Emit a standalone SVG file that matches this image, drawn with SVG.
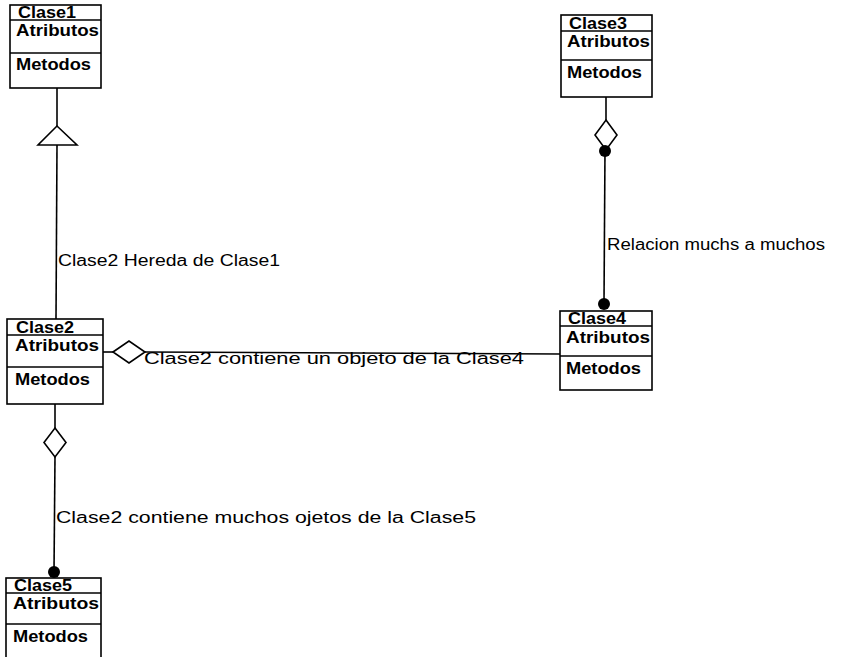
<svg xmlns="http://www.w3.org/2000/svg" width="852" height="657" viewBox="0 0 852 657">
<style>
  .box rect { fill: #fff; stroke: #000; stroke-width: 1.6; }
  .box line { stroke: #000; stroke-width: 1.6; }
  .bt { font-family: "Liberation Sans", Arial, sans-serif; font-size: 16px; font-weight: bold; fill: #000; }
  .lbl { font-family: "Liberation Sans", Arial, sans-serif; font-size: 16px; fill: #000; }
  .edge line { stroke: #000; stroke-width: 1.6; }
  .hollow { fill: #fff; stroke: #000; stroke-width: 1.6; }
  .dot { fill: #000; }
</style>
<rect width="852" height="657" fill="#fff"/>

<g id="connectors" class="edge">
  <!-- Clase2 inherits Clase1 -->
  <line x1="57" y1="88" x2="57" y2="126"/>
  <line x1="57" y1="145" x2="56" y2="319"/>
  <polygon class="hollow" points="57,126 38,145 77,145"/>
  <!-- Clase2 contains Clase4 -->
  <line x1="103" y1="352" x2="113" y2="352"/>
  <line x1="145" y1="352" x2="560" y2="354"/>
  <polygon class="hollow" points="113,352 129,341 145,352 129,363"/>
  <!-- Clase3 many-to-many Clase4 -->
  <line x1="606" y1="97" x2="606" y2="120"/>
  <line x1="605" y1="150" x2="604" y2="303"/>
  <polygon class="hollow" points="606,120 617,135 606,150 595,135"/>
  <circle class="dot" cx="605" cy="151" r="6"/>
  <circle class="dot" cx="604" cy="304" r="6"/>
  <!-- Clase2 contains many Clase5 -->
  <line x1="55" y1="404" x2="55" y2="428"/>
  <line x1="55" y1="457" x2="54" y2="572"/>
  <polygon class="hollow" points="55,428 66,442.5 55,457 44,442.5"/>
  <circle class="dot" cx="54" cy="572" r="6"/>
</g>

<g id="labels">
  <text class="lbl" x="58" y="266" textLength="222" lengthAdjust="spacingAndGlyphs">Clase2 Hereda de Clase1</text>
  <text class="lbl" x="607" y="250" textLength="218" lengthAdjust="spacingAndGlyphs">Relacion muchs a muchos</text>
  <text class="lbl" x="144" y="364" textLength="380" lengthAdjust="spacingAndGlyphs">Clase2 contiene un objeto de la Clase4</text>
  <text class="lbl" x="56" y="523" textLength="420" lengthAdjust="spacingAndGlyphs">Clase2 contiene muchos ojetos de la Clase5</text>
</g>

<g id="Clase1" class="box">
  <rect x="10" y="5" width="91" height="83"/>
  <line x1="10" y1="20" x2="101" y2="20"/>
  <line x1="10" y1="53" x2="101" y2="53"/>
  <text class="bt" x="18" y="18" textLength="58" lengthAdjust="spacingAndGlyphs">Clase1</text>
  <text class="bt" x="16" y="36" textLength="83" lengthAdjust="spacingAndGlyphs">Atributos</text>
  <text class="bt" x="16" y="70" textLength="75" lengthAdjust="spacingAndGlyphs">Metodos</text>
</g>

<g id="Clase2" class="box">
  <rect x="7" y="319" width="96" height="85"/>
  <line x1="7" y1="335" x2="103" y2="335"/>
  <line x1="7" y1="367" x2="103" y2="367"/>
  <text class="bt" x="16" y="333" textLength="58" lengthAdjust="spacingAndGlyphs">Clase2</text>
  <text class="bt" x="15" y="351" textLength="84" lengthAdjust="spacingAndGlyphs">Atributos</text>
  <text class="bt" x="15" y="385" textLength="75" lengthAdjust="spacingAndGlyphs">Metodos</text>
</g>

<g id="Clase3" class="box">
  <rect x="561" y="15" width="91" height="82"/>
  <line x1="561" y1="31" x2="652" y2="31"/>
  <line x1="561" y1="60" x2="652" y2="60"/>
  <text class="bt" x="569" y="29" textLength="58" lengthAdjust="spacingAndGlyphs">Clase3</text>
  <text class="bt" x="567" y="47" textLength="83" lengthAdjust="spacingAndGlyphs">Atributos</text>
  <text class="bt" x="567" y="78" textLength="75" lengthAdjust="spacingAndGlyphs">Metodos</text>
</g>

<g id="Clase4" class="box">
  <rect x="560" y="311" width="92" height="79"/>
  <line x1="560" y1="326" x2="652" y2="326"/>
  <line x1="560" y1="356" x2="652" y2="356"/>
  <text class="bt" x="568" y="324" textLength="58" lengthAdjust="spacingAndGlyphs">Clase4</text>
  <text class="bt" x="566" y="343" textLength="84" lengthAdjust="spacingAndGlyphs">Atributos</text>
  <text class="bt" x="566" y="374" textLength="75" lengthAdjust="spacingAndGlyphs">Metodos</text>
</g>

<g id="Clase5" class="box">
  <rect x="6" y="578" width="95" height="90"/>
  <line x1="6" y1="593" x2="101" y2="593"/>
  <line x1="6" y1="624" x2="101" y2="624"/>
  <text class="bt" x="14" y="591" textLength="58" lengthAdjust="spacingAndGlyphs">Clase5</text>
  <text class="bt" x="13" y="609" textLength="86" lengthAdjust="spacingAndGlyphs">Atributos</text>
  <text class="bt" x="13" y="642" textLength="75" lengthAdjust="spacingAndGlyphs">Metodos</text>
</g>
</svg>
